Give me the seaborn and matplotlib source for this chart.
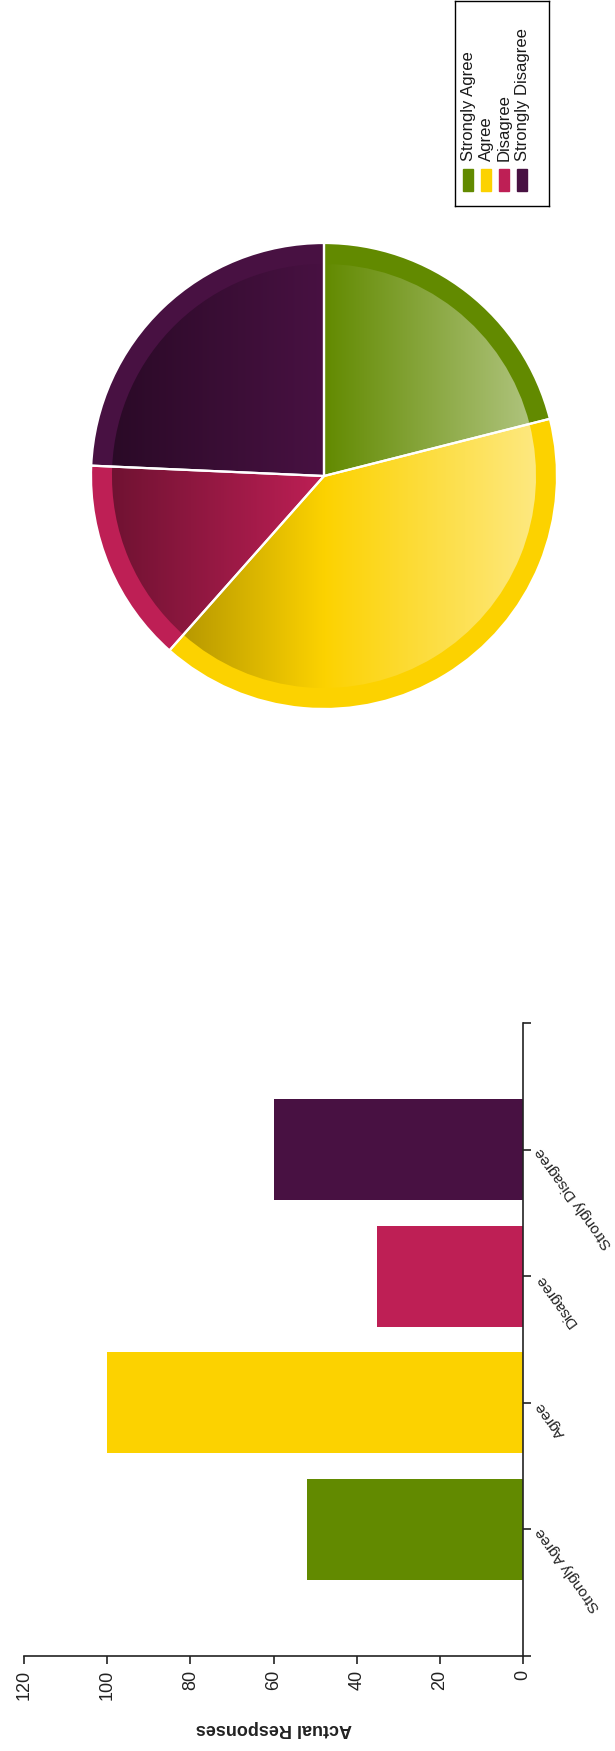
import numpy as np
import pandas as pd
import matplotlib
matplotlib.use("Agg")
import matplotlib.pyplot as plt
import matplotlib.patches as mpatches
from matplotlib.colors import LinearSegmentedColormap, to_rgb
import seaborn as sns

# data
categories = ["Strongly Agree", "Agree", "Disagree", "Strongly Disagree"]
responses = [52, 100, 35, 60]
colors = ["#628a00", "#fcd200", "#be1f55", "#481142"]
bar_order = ["Strongly Disagree", "Disagree", "Agree", "Strongly Agree"]
value_ticks = [0, 20, 40, 60, 80, 100, 120]

sns.set_theme(style="white")
plt.rcParams["font.family"] = ["Liberation Sans", "DejaVu Sans"]

W, H = 615, 1751
fig = plt.figure(figsize=(W / 100, H / 100), dpi=100)
fig.patch.set_facecolor("white")


def shade(c, k):
    r, g, b = to_rgb(c)
    return (r * k, g * k, b * k)


def tint(c, k):
    r, g, b = to_rgb(c)
    return (r + (1 - r) * k, g + (1 - g) * k, b + (1 - b) * k)


# ---- pie (drawn in the rotated orientation of the reference) ----
cx, cy, rad, half = 324, 476, 233, 240
ax_pie = fig.add_axes([(cx - half) / W, (H - cy - half) / H, 2 * half / W, 2 * half / H])

outer, _ = ax_pie.pie(responses, colors=colors, startangle=90, counterclock=False,
                      radius=1.0, wedgeprops=dict(linewidth=0, zorder=1))
inner, _ = ax_pie.pie(responses, startangle=90, counterclock=False, radius=0.91,
                      wedgeprops=dict(facecolor="none", edgecolor="none", zorder=1))

grad = np.tile(np.linspace(0, 1, 256), (4, 1))
for wedge, c in zip(inner, colors):
    cmap = LinearSegmentedColormap.from_list(
        "g", [shade(c, 0.55), to_rgb(c), tint(c, 0.55)])
    im = ax_pie.imshow(grad, extent=(-1, 1, -1, 1), cmap=cmap, origin="lower",
                       aspect="auto", interpolation="bilinear", zorder=2)
    im.set_clip_path(wedge)

ax_pie.pie(responses, startangle=90, counterclock=False, radius=1.0,
           wedgeprops=dict(fill=False, edgecolor="white", linewidth=1.6, zorder=5))
lim = half / rad
ax_pie.set_xlim(-lim, lim)
ax_pie.set_ylim(-lim, lim)
ax_pie.axis("off")

# ---- legend (rotated, built by hand) ----
lx0, lx1, ly0, ly1 = 455, 549, 1, 206
ax_leg = fig.add_axes([lx0 / W, 1 - ly1 / H, (lx1 - lx0) / W, (ly1 - ly0) / H])
ax_leg.set_xlim(0, lx1 - lx0)
ax_leg.set_ylim(ly1 - ly0, 0)
ax_leg.set_xticks([])
ax_leg.set_yticks([])
for s in ax_leg.spines.values():
    s.set_color("black")
    s.set_linewidth(1.0)
for i, (cat, c) in enumerate(zip(categories, colors)):
    xc = 13 + i * 18
    ax_leg.add_patch(mpatches.Rectangle((xc - 5, 168), 10, 22, color=c))
    ax_leg.text(xc, 160, cat, rotation=90, ha="center", va="bottom",
                fontsize=12, color="#1a1a1a")

# ---- bar chart ----
ax = fig.add_axes([24 / W, 1 - 1656 / H, (523 - 24) / W, (1656 - 1023) / H])
df = pd.DataFrame({"category": categories, "responses": responses})
sns.barplot(data=df, x="responses", y="category", hue="category", order=bar_order,
            hue_order=categories, palette=colors, width=0.8, saturation=1,
            legend=False, linewidth=0, ax=ax)

ax.set_xlim(120, 0)
ax.set_ylim(4, -1)
sns.despine(ax=ax, left=True, top=True, right=False, bottom=False)
for side in ["right", "bottom"]:
    ax.spines[side].set_color("#222222")
    ax.spines[side].set_linewidth(1.2)

ax.yaxis.tick_right()
ax.set_yticks(range(len(bar_order)))
ax.set_yticks([-1, 4], minor=True)
ax.set_yticklabels(bar_order, rotation=126, ha="right", va="center",
                   rotation_mode="anchor", fontsize=11, color="#222222")
ax.set_xticks(value_ticks)
ax.set_xticklabels([str(v) for v in value_ticks], rotation=90, fontsize=13,
                   color="#222222")
ax.tick_params(axis="y", which="both", right=True, length=6, width=1.2,
               color="#222222", pad=5)
ax.tick_params(axis="x", bottom=True, length=6, width=1.2, color="#222222", pad=4)
ax.set_ylabel("")
ax.set_xlabel("Actual Responses", rotation=180, fontsize=13, fontweight="bold",
              labelpad=14, color="#222222")

fig.savefig("out.png", dpi=100)
